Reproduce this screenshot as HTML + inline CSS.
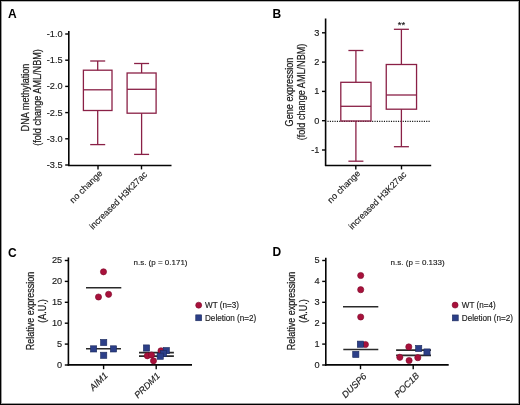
<!DOCTYPE html>
<html><head><meta charset="utf-8"><style>
html,body{margin:0;padding:0;background:#fff;}
body{width:520px;height:405px;overflow:hidden;position:relative;font-family:"Liberation Sans",sans-serif;}
#frame{position:absolute;left:0;top:0;width:520px;height:405px;box-sizing:border-box;border:1px solid #000;}
#inner{position:absolute;left:1px;top:1px;right:1px;bottom:1px;border:1px solid #9a9a9a;border-top-color:#b5b5b5;border-left-color:#9a9a9a;}
svg{position:absolute;left:0;top:0;will-change:transform;}
text{font-family:"Liberation Sans",sans-serif;stroke:#1a1a1a;stroke-width:0.15px;}
text.nb{stroke:none;}
text.yl{stroke-width:0.22px;}
</style></head><body>
<svg width="520" height="405" viewBox="0 0 520 405">
<text x="8.1" y="18.2" font-size="12" text-anchor="start" fill="#000" font-weight="bold" class="nb">A</text>
<line x1="68.8" y1="31" x2="68.8" y2="166.0" stroke="#050505" stroke-width="1.6" />
<line x1="65.2" y1="34.0" x2="68.8" y2="34.0" stroke="#050505" stroke-width="1.4" />
<text x="62.599999999999994" y="36.95" font-size="9.2" text-anchor="end" fill="#1a1a1a" >-1.0</text>
<line x1="65.2" y1="60.2" x2="68.8" y2="60.2" stroke="#050505" stroke-width="1.4" />
<text x="62.599999999999994" y="63.150000000000006" font-size="9.2" text-anchor="end" fill="#1a1a1a" >-1.5</text>
<line x1="65.2" y1="86.4" x2="68.8" y2="86.4" stroke="#050505" stroke-width="1.4" />
<text x="62.599999999999994" y="89.35000000000001" font-size="9.2" text-anchor="end" fill="#1a1a1a" >-2.0</text>
<line x1="65.2" y1="112.6" x2="68.8" y2="112.6" stroke="#050505" stroke-width="1.4" />
<text x="62.599999999999994" y="115.55" font-size="9.2" text-anchor="end" fill="#1a1a1a" >-2.5</text>
<line x1="65.2" y1="138.8" x2="68.8" y2="138.8" stroke="#050505" stroke-width="1.4" />
<text x="62.599999999999994" y="141.75" font-size="9.2" text-anchor="end" fill="#1a1a1a" >-3.0</text>
<line x1="65.2" y1="165.0" x2="68.8" y2="165.0" stroke="#050505" stroke-width="1.4" />
<text x="62.599999999999994" y="167.95" font-size="9.2" text-anchor="end" fill="#1a1a1a" >-3.5</text>
<line x1="68" y1="165.5" x2="171.5" y2="165.5" stroke="#050505" stroke-width="1.6" />
<line x1="98" y1="165.2" x2="98" y2="169.4" stroke="#050505" stroke-width="1.4" />
<line x1="141.5" y1="165.2" x2="141.5" y2="169.4" stroke="#050505" stroke-width="1.4" />
<rect x="83.4" y="70.2" width="28.6" height="40.3" fill="none" stroke="#8a2046" stroke-width="1.3"/>
<line x1="83.4" y1="89.8" x2="112.0" y2="89.8" stroke="#8a2046" stroke-width="1.3" />
<line x1="97.7" y1="70.2" x2="97.7" y2="61.0" stroke="#8a2046" stroke-width="1.3" />
<line x1="97.7" y1="110.5" x2="97.7" y2="144.6" stroke="#8a2046" stroke-width="1.3" />
<line x1="90.2" y1="61.0" x2="105.2" y2="61.0" stroke="#8a2046" stroke-width="1.3" />
<line x1="90.2" y1="144.6" x2="105.2" y2="144.6" stroke="#8a2046" stroke-width="1.3" />
<rect x="127.1" y="73.0" width="29.0" height="40.2" fill="none" stroke="#8a2046" stroke-width="1.3"/>
<line x1="127.1" y1="89.3" x2="156.1" y2="89.3" stroke="#8a2046" stroke-width="1.3" />
<line x1="141.6" y1="73.0" x2="141.6" y2="63.5" stroke="#8a2046" stroke-width="1.3" />
<line x1="141.6" y1="113.2" x2="141.6" y2="154.4" stroke="#8a2046" stroke-width="1.3" />
<line x1="134.1" y1="63.5" x2="149.1" y2="63.5" stroke="#8a2046" stroke-width="1.3" />
<line x1="134.1" y1="154.4" x2="149.1" y2="154.4" stroke="#8a2046" stroke-width="1.3" />
<text x="0" y="0" font-size="10.3" text-anchor="middle" fill="#1a1a1a" class="yl" transform="translate(29.3 97.5) rotate(-90) scale(0.885 1)">DNA methylation</text>
<text x="0" y="0" font-size="10.3" text-anchor="middle" fill="#1a1a1a" class="yl" transform="translate(41.3 97.5) rotate(-90) scale(0.885 1)">(fold change AML/NBM)</text>
<text x="0" y="0" font-size="9.0" text-anchor="end" fill="#1a1a1a" transform="translate(103.0 173.9) rotate(-45)">no change</text>
<text x="0" y="0" font-size="8.9" text-anchor="end" fill="#1a1a1a" transform="translate(147.7 175.2) rotate(-45)">increased H3K27ac</text>
<text x="272.5" y="18.2" font-size="12" text-anchor="start" fill="#000" font-weight="bold" class="nb">B</text>
<line x1="325.6" y1="18.5" x2="325.6" y2="166.0" stroke="#050505" stroke-width="1.6" />
<line x1="322.0" y1="32.8" x2="325.6" y2="32.8" stroke="#050505" stroke-width="1.4" />
<text x="319.40000000000003" y="35.75" font-size="9.2" text-anchor="end" fill="#1a1a1a" >3</text>
<line x1="322.0" y1="62.1" x2="325.6" y2="62.1" stroke="#050505" stroke-width="1.4" />
<text x="319.40000000000003" y="65.05" font-size="9.2" text-anchor="end" fill="#1a1a1a" >2</text>
<line x1="322.0" y1="91.4" x2="325.6" y2="91.4" stroke="#050505" stroke-width="1.4" />
<text x="319.40000000000003" y="94.35000000000001" font-size="9.2" text-anchor="end" fill="#1a1a1a" >1</text>
<line x1="322.0" y1="120.7" x2="325.6" y2="120.7" stroke="#050505" stroke-width="1.4" />
<text x="319.40000000000003" y="123.65" font-size="9.2" text-anchor="end" fill="#1a1a1a" >0</text>
<line x1="322.0" y1="150.0" x2="325.6" y2="150.0" stroke="#050505" stroke-width="1.4" />
<text x="319.40000000000003" y="152.95" font-size="9.2" text-anchor="end" fill="#1a1a1a" >-1</text>
<line x1="325" y1="165.5" x2="431.2" y2="165.5" stroke="#050505" stroke-width="1.6" />
<line x1="355.8" y1="165.2" x2="355.8" y2="169.4" stroke="#050505" stroke-width="1.4" />
<line x1="401.5" y1="165.2" x2="401.5" y2="169.4" stroke="#050505" stroke-width="1.4" />
<line x1="327.5" y1="121.4" x2="430.2" y2="121.4" stroke="#111" stroke-width="1.1" stroke-dasharray="1.1 1.25"/>
<rect x="340.79999999999995" y="82.3" width="30.2" height="38.7" fill="none" stroke="#8a2046" stroke-width="1.3"/>
<line x1="340.79999999999995" y1="106.3" x2="371.0" y2="106.3" stroke="#8a2046" stroke-width="1.3" />
<line x1="355.9" y1="82.3" x2="355.9" y2="50.5" stroke="#8a2046" stroke-width="1.3" />
<line x1="355.9" y1="121.0" x2="355.9" y2="161.2" stroke="#8a2046" stroke-width="1.3" />
<line x1="348.4" y1="50.5" x2="363.4" y2="50.5" stroke="#8a2046" stroke-width="1.3" />
<line x1="348.4" y1="161.2" x2="363.4" y2="161.2" stroke="#8a2046" stroke-width="1.3" />
<rect x="386.25" y="64.5" width="30.3" height="44.7" fill="none" stroke="#8a2046" stroke-width="1.3"/>
<line x1="386.25" y1="95.0" x2="416.54999999999995" y2="95.0" stroke="#8a2046" stroke-width="1.3" />
<line x1="401.4" y1="64.5" x2="401.4" y2="29.3" stroke="#8a2046" stroke-width="1.3" />
<line x1="401.4" y1="109.2" x2="401.4" y2="146.7" stroke="#8a2046" stroke-width="1.3" />
<line x1="393.9" y1="29.3" x2="408.9" y2="29.3" stroke="#8a2046" stroke-width="1.3" />
<line x1="393.9" y1="146.7" x2="408.9" y2="146.7" stroke="#8a2046" stroke-width="1.3" />
<text x="401.4" y="28.0" font-size="9.5" text-anchor="middle" fill="#111" >**</text>
<text x="0" y="0" font-size="10.3" text-anchor="middle" fill="#1a1a1a" class="yl" transform="translate(292.8 92.0) rotate(-90) scale(0.885 1)">Gene expression</text>
<text x="0" y="0" font-size="10.3" text-anchor="middle" fill="#1a1a1a" class="yl" transform="translate(305.2 92.0) rotate(-90) scale(0.885 1)">(fold change AML/NBM)</text>
<text x="0" y="0" font-size="9.0" text-anchor="end" fill="#1a1a1a" transform="translate(360.8 173.9) rotate(-45)">no change</text>
<text x="0" y="0" font-size="8.9" text-anchor="end" fill="#1a1a1a" transform="translate(407.0 175.2) rotate(-45)">increased H3K27ac</text>
<text x="8.0" y="256.8" font-size="12" text-anchor="start" fill="#000" font-weight="bold" class="nb">C</text>
<line x1="68.4" y1="257.4" x2="68.4" y2="365.7" stroke="#050505" stroke-width="1.6" />
<line x1="64.80000000000001" y1="365.0" x2="68.4" y2="365.0" stroke="#050505" stroke-width="1.4" />
<text x="62.2" y="367.95" font-size="9.2" text-anchor="end" fill="#1a1a1a" >0</text>
<line x1="64.80000000000001" y1="344.1" x2="68.4" y2="344.1" stroke="#050505" stroke-width="1.4" />
<text x="62.2" y="347.05" font-size="9.2" text-anchor="end" fill="#1a1a1a" >5</text>
<line x1="64.80000000000001" y1="323.2" x2="68.4" y2="323.2" stroke="#050505" stroke-width="1.4" />
<text x="62.2" y="326.15" font-size="9.2" text-anchor="end" fill="#1a1a1a" >10</text>
<line x1="64.80000000000001" y1="302.3" x2="68.4" y2="302.3" stroke="#050505" stroke-width="1.4" />
<text x="62.2" y="305.25" font-size="9.2" text-anchor="end" fill="#1a1a1a" >15</text>
<line x1="64.80000000000001" y1="281.4" x2="68.4" y2="281.4" stroke="#050505" stroke-width="1.4" />
<text x="62.2" y="284.34999999999997" font-size="9.2" text-anchor="end" fill="#1a1a1a" >20</text>
<line x1="64.80000000000001" y1="260.5" x2="68.4" y2="260.5" stroke="#050505" stroke-width="1.4" />
<text x="62.2" y="263.45" font-size="9.2" text-anchor="end" fill="#1a1a1a" >25</text>
<line x1="67.6" y1="364.9" x2="192" y2="364.9" stroke="#050505" stroke-width="1.6" />
<line x1="103.6" y1="364.9" x2="103.6" y2="369.2" stroke="#050505" stroke-width="1.4" />
<line x1="156.2" y1="364.9" x2="156.2" y2="369.2" stroke="#050505" stroke-width="1.4" />
<circle cx="103.5" cy="271.8" r="3.1" fill="#a8113b" stroke="#7c0a2b" stroke-width="0.6"/>
<circle cx="108.6" cy="294.3" r="3.1" fill="#a8113b" stroke="#7c0a2b" stroke-width="0.6"/>
<circle cx="98.5" cy="297.0" r="3.1" fill="#a8113b" stroke="#7c0a2b" stroke-width="0.6"/>
<line x1="86" y1="287.8" x2="121.3" y2="287.8" stroke="#2a2a2a" stroke-width="1.6" />
<line x1="86" y1="348.8" x2="121" y2="348.8" stroke="#2a2a2a" stroke-width="1.6" />
<rect x="90.5" y="345.79999999999995" width="6.2" height="6.2" fill="#2c3f88" stroke="#1c2a5c" stroke-width="0.6"/>
<rect x="100.60000000000001" y="339.4" width="6.2" height="6.2" fill="#2c3f88" stroke="#1c2a5c" stroke-width="0.6"/>
<rect x="100.60000000000001" y="352.2" width="6.2" height="6.2" fill="#2c3f88" stroke="#1c2a5c" stroke-width="0.6"/>
<rect x="110.4" y="345.79999999999995" width="6.2" height="6.2" fill="#2c3f88" stroke="#1c2a5c" stroke-width="0.6"/>
<line x1="139" y1="352.6" x2="173.9" y2="352.6" stroke="#2a2a2a" stroke-width="1.6" />
<line x1="139" y1="356.1" x2="173.9" y2="356.1" stroke="#2a2a2a" stroke-width="1.6" />
<rect x="143.4" y="344.9" width="6.2" height="6.2" fill="#2c3f88" stroke="#1c2a5c" stroke-width="0.6"/>
<circle cx="161.0" cy="350.8" r="3.1" fill="#a8113b" stroke="#7c0a2b" stroke-width="0.6"/>
<circle cx="147.3" cy="355.8" r="3.1" fill="#a8113b" stroke="#7c0a2b" stroke-width="0.6"/>
<circle cx="151.5" cy="355.0" r="3.1" fill="#a8113b" stroke="#7c0a2b" stroke-width="0.6"/>
<circle cx="153.5" cy="360.8" r="3.1" fill="#a8113b" stroke="#7c0a2b" stroke-width="0.6"/>
<rect x="163.20000000000002" y="347.5" width="6.2" height="6.2" fill="#2c3f88" stroke="#1c2a5c" stroke-width="0.6"/>
<rect x="160.4" y="350.5" width="6.2" height="6.2" fill="#2c3f88" stroke="#1c2a5c" stroke-width="0.6"/>
<rect x="157.1" y="353.09999999999997" width="6.2" height="6.2" fill="#2c3f88" stroke="#1c2a5c" stroke-width="0.6"/>
<text x="133.5" y="265.0" font-size="8" text-anchor="start" fill="#1a1a1a" >n.s. (p = 0.171)</text>
<circle cx="198.7" cy="305.2" r="3.0" fill="#a8113b" stroke="#7c0a2b" stroke-width="0.6"/>
<text x="205.0" y="308.2" font-size="8.15" text-anchor="start" fill="#1a1a1a" >WT (n=3)</text>
<rect x="195.75" y="314.85" width="5.9" height="5.9" fill="#2c3f88" stroke="#1c2a5c" stroke-width="0.6"/>
<text x="205.0" y="320.7" font-size="8.15" text-anchor="start" fill="#1a1a1a" >Deletion (n=2)</text>
<text x="0" y="0" font-size="10.0" text-anchor="middle" fill="#1a1a1a" class="yl" transform="translate(33.9 311.0) rotate(-90) scale(0.9 1)">Relative expression</text>
<text x="0" y="0" font-size="10.0" text-anchor="middle" fill="#1a1a1a" class="yl" transform="translate(46.0 311.0) rotate(-90) scale(0.9 1)">(A.U.)</text>
<text x="0" y="0" font-size="9.3" text-anchor="end" fill="#1a1a1a" font-style="italic" transform="translate(108.5 376.0) rotate(-45)">AIM1</text>
<text x="0" y="0" font-size="9.1" text-anchor="end" fill="#1a1a1a" font-style="italic" transform="translate(160.5 376.3) rotate(-45)">PRDM1</text>
<text x="272.5" y="256.4" font-size="12" text-anchor="start" fill="#000" font-weight="bold" class="nb">D</text>
<line x1="325.8" y1="257.7" x2="325.8" y2="365.7" stroke="#050505" stroke-width="1.6" />
<line x1="322.2" y1="365.0" x2="325.8" y2="365.0" stroke="#050505" stroke-width="1.4" />
<text x="319.6" y="367.95" font-size="9.2" text-anchor="end" fill="#1a1a1a" >0</text>
<line x1="322.2" y1="344.1" x2="325.8" y2="344.1" stroke="#050505" stroke-width="1.4" />
<text x="319.6" y="347.05" font-size="9.2" text-anchor="end" fill="#1a1a1a" >1</text>
<line x1="322.2" y1="323.2" x2="325.8" y2="323.2" stroke="#050505" stroke-width="1.4" />
<text x="319.6" y="326.15" font-size="9.2" text-anchor="end" fill="#1a1a1a" >2</text>
<line x1="322.2" y1="302.3" x2="325.8" y2="302.3" stroke="#050505" stroke-width="1.4" />
<text x="319.6" y="305.25" font-size="9.2" text-anchor="end" fill="#1a1a1a" >3</text>
<line x1="322.2" y1="281.4" x2="325.8" y2="281.4" stroke="#050505" stroke-width="1.4" />
<text x="319.6" y="284.34999999999997" font-size="9.2" text-anchor="end" fill="#1a1a1a" >4</text>
<line x1="322.2" y1="260.5" x2="325.8" y2="260.5" stroke="#050505" stroke-width="1.4" />
<text x="319.6" y="263.45" font-size="9.2" text-anchor="end" fill="#1a1a1a" >5</text>
<line x1="325" y1="364.9" x2="448.7" y2="364.9" stroke="#050505" stroke-width="1.6" />
<line x1="360.5" y1="364.9" x2="360.5" y2="369.2" stroke="#050505" stroke-width="1.4" />
<line x1="413.2" y1="364.9" x2="413.2" y2="369.2" stroke="#050505" stroke-width="1.4" />
<line x1="343" y1="306.8" x2="378.3" y2="306.8" stroke="#2a2a2a" stroke-width="1.6" />
<line x1="343.3" y1="349.5" x2="378.3" y2="349.5" stroke="#2a2a2a" stroke-width="1.6" />
<circle cx="360.7" cy="275.5" r="3.1" fill="#a8113b" stroke="#7c0a2b" stroke-width="0.6"/>
<circle cx="360.7" cy="289.7" r="3.1" fill="#a8113b" stroke="#7c0a2b" stroke-width="0.6"/>
<circle cx="360.7" cy="317.0" r="3.1" fill="#a8113b" stroke="#7c0a2b" stroke-width="0.6"/>
<circle cx="365.4" cy="344.5" r="3.1" fill="#a8113b" stroke="#7c0a2b" stroke-width="0.6"/>
<rect x="357.29999999999995" y="341.09999999999997" width="6.2" height="6.2" fill="#2c3f88" stroke="#1c2a5c" stroke-width="0.6"/>
<rect x="352.7" y="351.29999999999995" width="6.2" height="6.2" fill="#2c3f88" stroke="#1c2a5c" stroke-width="0.6"/>
<line x1="396.1" y1="350.1" x2="431" y2="350.1" stroke="#2a2a2a" stroke-width="1.6" />
<line x1="396.1" y1="355.4" x2="431" y2="355.4" stroke="#2a2a2a" stroke-width="1.6" />
<circle cx="408.8" cy="346.9" r="3.1" fill="#a8113b" stroke="#7c0a2b" stroke-width="0.6"/>
<circle cx="399.8" cy="357.3" r="3.1" fill="#a8113b" stroke="#7c0a2b" stroke-width="0.6"/>
<circle cx="409.1" cy="360.5" r="3.1" fill="#a8113b" stroke="#7c0a2b" stroke-width="0.6"/>
<circle cx="417.8" cy="357.7" r="3.1" fill="#a8113b" stroke="#7c0a2b" stroke-width="0.6"/>
<rect x="415.59999999999997" y="345.4" width="6.2" height="6.2" fill="#2c3f88" stroke="#1c2a5c" stroke-width="0.6"/>
<rect x="423.9" y="348.9" width="6.2" height="6.2" fill="#2c3f88" stroke="#1c2a5c" stroke-width="0.6"/>
<text x="390.6" y="265.1" font-size="8" text-anchor="start" fill="#1a1a1a" >n.s. (p = 0.133)</text>
<circle cx="455.1" cy="305.1" r="3.0" fill="#a8113b" stroke="#7c0a2b" stroke-width="0.6"/>
<text x="461.8" y="308.2" font-size="8.15" text-anchor="start" fill="#1a1a1a" >WT (n=4)</text>
<rect x="452.35" y="314.95" width="5.9" height="5.9" fill="#2c3f88" stroke="#1c2a5c" stroke-width="0.6"/>
<text x="461.8" y="320.9" font-size="8.15" text-anchor="start" fill="#1a1a1a" >Deletion (n=2)</text>
<text x="0" y="0" font-size="10.0" text-anchor="middle" fill="#1a1a1a" class="yl" transform="translate(295.4 311.0) rotate(-90) scale(0.9 1)">Relative expression</text>
<text x="0" y="0" font-size="10.0" text-anchor="middle" fill="#1a1a1a" class="yl" transform="translate(307.3 311.0) rotate(-90) scale(0.9 1)">(A.U.)</text>
<text x="0" y="0" font-size="9.2" text-anchor="end" fill="#1a1a1a" font-style="italic" transform="translate(367.2 376.9) rotate(-45)">DUSP6</text>
<text x="0" y="0" font-size="9.1" text-anchor="end" fill="#1a1a1a" font-style="italic" transform="translate(419.8 376.3) rotate(-45)">POC1B</text>
</svg>
<div id="frame"></div><div id="inner"></div>
</body></html>
